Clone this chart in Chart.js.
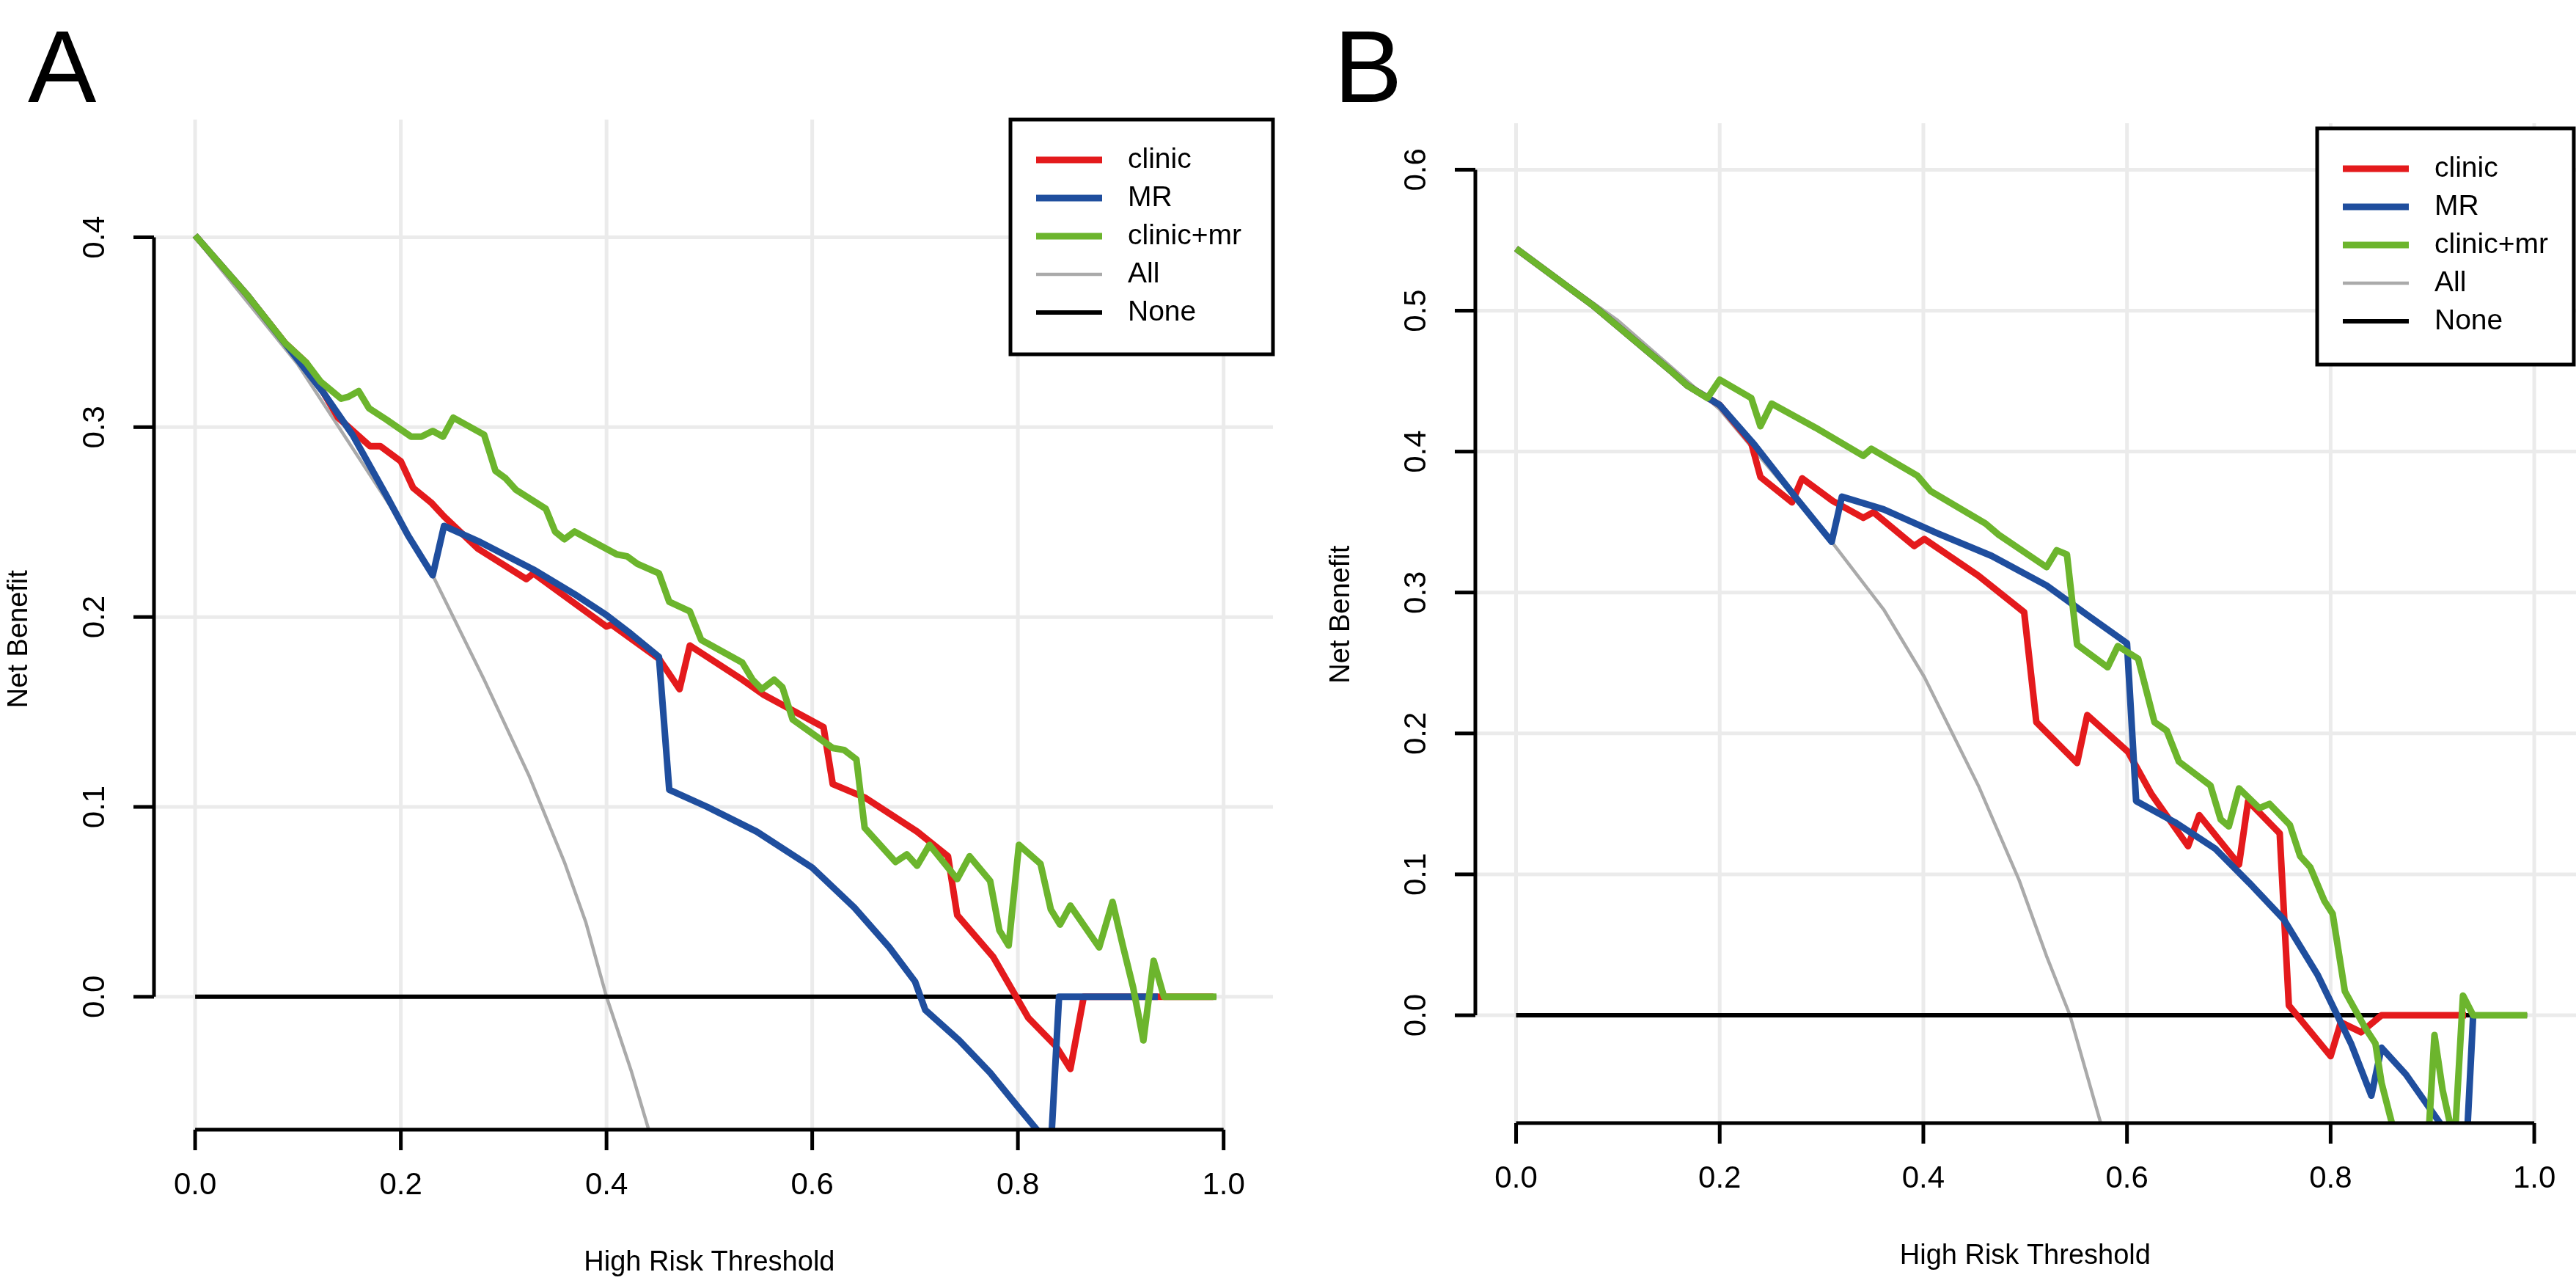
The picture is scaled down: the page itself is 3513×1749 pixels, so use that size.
<!DOCTYPE html>
<html>
<head>
<meta charset="utf-8">
<script src="https://cdn.jsdelivr.net/npm/chart.js@4.4.1/dist/chart.umd.min.js"></script>
<style>
  body { margin: 0; background: #fff; }
  .wrap { display: flex; width: 3513px; height: 1749px; }
  canvas { display: block; }
</style>
</head>
<body>
<div class="wrap">
  <canvas id="chartA" width="1756" height="1749" style="width:1756px;height:1749px"></canvas>
  <canvas id="chartB" width="1757" height="1749" style="width:1757px;height:1749px"></canvas>
</div>
<script>
// legend / series names
const seriesNames = ['clinic', 'MR', 'clinic+mr', 'All', 'None'];
const xTicks = [0, 0.2, 0.4, 0.6, 0.8, 1.0];
const yTicksA = [0, 0.1, 0.2, 0.3, 0.4];
const yTicksB = [0, 0.1, 0.2, 0.3, 0.4, 0.5, 0.6];

// panel A
const aClinicX = [0,0.05,0.088,0.108,0.125,0.139,0.17,0.18,0.2,0.212,0.23,0.242,0.275,0.322,0.329,0.4,0.405,0.451,0.471,0.481,0.532,0.553,0.611,0.62,0.651,0.702,0.732,0.741,0.776,0.81,0.837,0.851,0.864,0.99];
const aClinicY = [0.401,0.37,0.344,0.334,0.318,0.305,0.29,0.29,0.282,0.268,0.26,0.253,0.236,0.22,0.223,0.195,0.196,0.178,0.162,0.185,0.167,0.159,0.142,0.112,0.105,0.087,0.074,0.043,0.021,-0.011,-0.026,-0.038,0,0];
const aMrX = [0,0.05,0.092,0.125,0.153,0.186,0.207,0.231,0.242,0.275,0.329,0.369,0.4,0.424,0.451,0.461,0.498,0.546,0.6,0.641,0.675,0.7,0.71,0.743,0.773,0.8,0.82,0.831,0.84,0.936];
const aMrY = [0.401,0.37,0.341,0.318,0.296,0.264,0.243,0.222,0.248,0.24,0.225,0.212,0.201,0.191,0.179,0.109,0.1,0.087,0.068,0.047,0.026,0.008,-0.007,-0.023,-0.04,-0.058,-0.071,-0.09,0,0];
const aComboX = [0,0.05,0.088,0.108,0.122,0.142,0.149,0.159,0.169,0.186,0.21,0.22,0.231,0.241,0.251,0.281,0.292,0.302,0.312,0.341,0.35,0.359,0.369,0.41,0.42,0.43,0.451,0.461,0.481,0.492,0.532,0.542,0.551,0.563,0.571,0.581,0.62,0.631,0.643,0.651,0.681,0.692,0.702,0.714,0.741,0.753,0.773,0.782,0.791,0.801,0.822,0.832,0.841,0.851,0.879,0.892,0.902,0.912,0.922,0.932,0.942,0.993];
const aComboY = [0.401,0.37,0.344,0.334,0.324,0.315,0.316,0.319,0.31,0.304,0.295,0.295,0.298,0.295,0.305,0.296,0.277,0.273,0.267,0.257,0.245,0.241,0.245,0.233,0.232,0.228,0.223,0.208,0.203,0.188,0.176,0.167,0.162,0.167,0.163,0.146,0.131,0.13,0.125,0.089,0.071,0.075,0.069,0.08,0.062,0.074,0.061,0.035,0.027,0.08,0.07,0.046,0.038,0.048,0.026,0.05,0.027,0.005,-0.023,0.019,0,0];
const aAllX = [0,0.1,0.2,0.231,0.281,0.325,0.359,0.38,0.4,0.424,0.441,0.46];
const aAllY = [0.4,0.333,0.25,0.222,0.167,0.116,0.071,0.039,0,-0.039,-0.07,-0.11];
const aNoneX = [0, 0.993];
const aNoneY = [0, 0];

// panel B
const bClinicX = [0,0.075,0.154,0.168,0.2,0.231,0.24,0.271,0.281,0.311,0.341,0.351,0.391,0.401,0.454,0.499,0.511,0.551,0.561,0.601,0.624,0.66,0.671,0.71,0.719,0.75,0.759,0.8,0.81,0.83,0.85,0.933];
const bClinicY = [0.544,0.504,0.456,0.447,0.433,0.406,0.382,0.364,0.381,0.365,0.353,0.357,0.333,0.338,0.312,0.286,0.208,0.179,0.213,0.187,0.157,0.12,0.142,0.107,0.152,0.129,0.007,-0.029,-0.005,-0.012,0,0];
const bMrX = [0,0.075,0.154,0.168,0.2,0.234,0.274,0.31,0.32,0.361,0.414,0.467,0.521,0.561,0.6,0.609,0.647,0.687,0.72,0.754,0.787,0.82,0.84,0.85,0.874,0.907,0.92,0.933,0.94];
const bMrY = [0.544,0.504,0.456,0.447,0.433,0.405,0.368,0.336,0.368,0.359,0.342,0.326,0.305,0.284,0.264,0.152,0.137,0.118,0.094,0.068,0.029,-0.02,-0.057,-0.023,-0.042,-0.076,-0.1,-0.1,0];
const bComboX = [0,0.075,0.154,0.168,0.188,0.2,0.231,0.24,0.251,0.294,0.341,0.349,0.394,0.407,0.461,0.474,0.521,0.531,0.541,0.551,0.581,0.591,0.611,0.627,0.639,0.651,0.682,0.692,0.7,0.71,0.73,0.74,0.76,0.77,0.78,0.794,0.802,0.814,0.834,0.844,0.85,0.86,0.875,0.895,0.902,0.91,0.917,0.921,0.93,0.94,0.993];
const bComboY = [0.544,0.504,0.456,0.447,0.438,0.451,0.438,0.418,0.434,0.417,0.397,0.402,0.383,0.372,0.349,0.341,0.318,0.33,0.327,0.263,0.247,0.262,0.253,0.208,0.202,0.18,0.163,0.139,0.134,0.161,0.147,0.15,0.135,0.113,0.105,0.081,0.072,0.017,-0.009,-0.02,-0.048,-0.076,-0.1,-0.1,-0.014,-0.053,-0.076,-0.1,0.014,0,0];
const bAllX = [0,0.1,0.2,0.31,0.361,0.401,0.454,0.494,0.521,0.544,0.574,0.59];
const bAllY = [0.544,0.493,0.43,0.336,0.288,0.24,0.163,0.096,0.042,0,-0.076,-0.12];
const bNoneX = [0, 0.993];
const bNoneY = [0, 0];

const colors = ['#e41a1c', '#1f4e9e', '#6cb52d', '#aaaaaa', '#000000'];
const widths = [9, 9, 9, 4.5, 6];
const FONT = '"Liberation Sans", Arial, sans-serif';

function pts(xs, ys) {
  const n = Math.min(xs.length, ys.length);
  const out = [];
  for (let i = 0; i < n; i++) out.push({ x: xs[i], y: ys[i] });
  return out;
}

// R-style grid, axes, labels and legend drawn through the chart scales
function rStyle(opt) {
  return {
    id: 'rstyle',
    beforeDatasetsDraw(chart) {
      const c = chart.ctx, a = chart.chartArea, sx = chart.scales.x, sy = chart.scales.y;
      c.save();
      c.strokeStyle = '#ebebeb';
      c.lineWidth = 5;
      opt.xTicks.forEach(v => {
        const p = sx.getPixelForValue(v);
        c.beginPath(); c.moveTo(p, a.top); c.lineTo(p, a.bottom); c.stroke();
      });
      opt.yTicks.forEach(v => {
        const p = sy.getPixelForValue(v);
        c.beginPath(); c.moveTo(a.left, p); c.lineTo(a.right, p); c.stroke();
      });
      c.restore();
    },
    afterDatasetsDraw(chart) {
      const c = chart.ctx, a = chart.chartArea, sx = chart.scales.x, sy = chart.scales.y;
      c.save();
      c.strokeStyle = '#000';
      c.fillStyle = '#000';
      c.lineWidth = 5;
      c.lineCap = 'butt';
      // x axis
      const x0 = sx.getPixelForValue(opt.xTicks[0]);
      const x1 = sx.getPixelForValue(opt.xTicks[opt.xTicks.length - 1]);
      c.beginPath(); c.moveTo(x0, a.bottom); c.lineTo(x1, a.bottom); c.stroke();
      c.font = '42px ' + FONT;
      c.textAlign = 'center';
      c.textBaseline = 'middle';
      opt.xTicks.forEach(v => {
        const p = sx.getPixelForValue(v);
        c.beginPath(); c.moveTo(p, a.bottom); c.lineTo(p, a.bottom + 28); c.stroke();
        c.fillText(v.toFixed(1), p, a.bottom + 76);
      });
      // y axis
      const y0 = sy.getPixelForValue(opt.yTicks[0]);
      const y1 = sy.getPixelForValue(opt.yTicks[opt.yTicks.length - 1]);
      c.beginPath(); c.moveTo(a.left, y0); c.lineTo(a.left, y1); c.stroke();
      opt.yTicks.forEach(v => {
        const p = sy.getPixelForValue(v);
        c.beginPath(); c.moveTo(a.left, p); c.lineTo(a.left - 28, p); c.stroke();
        c.save();
        c.translate(a.left - 80, p);
        c.rotate(-Math.PI / 2);
        c.fillText(v.toFixed(1), 0, 0);
        c.restore();
      });
      // titles
      c.font = '38px ' + FONT;
      c.fillText('High Risk Threshold', (x0 + x1) / 2, a.bottom + 182);
      c.save();
      c.translate(opt.yTitleX, (y0 + y1) / 2 + 30);
      c.rotate(-Math.PI / 2);
      c.fillText('Net Benefit', 0, 0);
      c.restore();
      // panel letter
      c.font = '140px ' + FONT;
      c.textAlign = 'left';
      c.textBaseline = 'alphabetic';
      c.fillText(opt.letter, opt.letterX, 139);
      // legend box
      const L = opt.legend;
      c.fillStyle = '#fff';
      c.fillRect(L.x, L.y, L.w, L.h);
      c.lineWidth = 5;
      c.strokeRect(L.x, L.y, L.w, L.h);
      c.font = '39px ' + FONT;
      c.textBaseline = 'middle';
      seriesNames.forEach((name, i) => {
        const yy = L.y + 55 + i * 52;
        c.strokeStyle = colors[i];
        c.lineWidth = widths[i];
        c.beginPath(); c.moveTo(L.x + 35, yy); c.lineTo(L.x + 125, yy); c.stroke();
        c.fillStyle = '#000';
        c.fillText(name, L.x + 160, yy);
      });
      c.restore();
    }
  };
}

function makeChart(id, series, o) {
  const order = [3, 2, 1, 5, 4];
  new Chart(document.getElementById(id), {
    type: 'line',
    data: {
      datasets: series.map((s, i) => ({
        label: seriesNames[i],
        data: s,
        borderColor: colors[i],
        borderWidth: widths[i],
        pointRadius: 0,
        tension: 0,
        fill: false,
        order: order[i],
        borderJoinStyle: 'round',
        borderCapStyle: 'butt'
      }))
    },
    options: {
      responsive: false,
      animation: false,
      devicePixelRatio: 1,
      layout: { padding: o.padding },
      plugins: { legend: { display: false }, tooltip: { enabled: false } },
      scales: {
        x: { type: 'linear', min: o.xMin, max: o.xMax, display: false },
        y: { type: 'linear', min: o.yMin, max: o.yMax, display: false }
      }
    },
    plugins: [rStyle(o)]
  });
}

makeChart('chartA', [
  pts(aClinicX, aClinicY), pts(aMrX, aMrY), pts(aComboX, aComboY), pts(aAllX, aAllY), pts(aNoneX, aNoneY)
], {
  padding: { left: 210, right: 20, top: 163, bottom: 209 },
  xMin: -0.04, xMax: 1.048, yMin: -0.07, yMax: 0.462,
  xTicks: xTicks, yTicks: yTicksA,
  letter: 'A', letterX: 38, yTitleX: 27,
  legend: { x: 1378, y: 163, w: 358, h: 320 }
});

makeChart('chartB', [
  pts(bClinicX, bClinicY), pts(bMrX, bMrY), pts(bComboX, bComboY), pts(bAllX, bAllY), pts(bNoneX, bNoneY)
], {
  padding: { left: 256, right: 0, top: 168, bottom: 218 },
  xMin: -0.04, xMax: 1.041, yMin: -0.0765, yMax: 0.633,
  xTicks: xTicks, yTicks: yTicksB,
  letter: 'B', letterX: 63, yTitleX: 74,
  legend: { x: 1404, y: 175, w: 350, h: 322 }
});
</script>
</body>
</html>
